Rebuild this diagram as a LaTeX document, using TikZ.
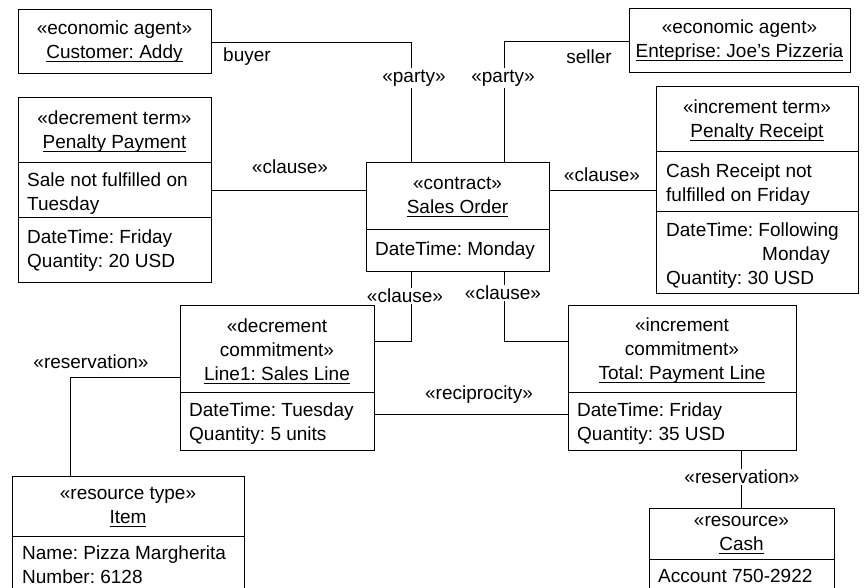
\documentclass[tikz,border=0pt]{standalone}
\usepackage{fontspec}
\setmainfont{Liberation Sans}
\usetikzlibrary{calc}
% underlined instance name with the rule at a fixed depth
\newcommand\ulname[1]{\setbox0\hbox{#1}\rlap{\rule[-3.4pt]{\wd0}{0.9pt}}\box0}

\begin{document}
\frenchspacing
\begin{tikzpicture}[x=1pt,y=-1pt,
  every node/.style={font=\fontsize{19}{24}\selectfont, inner sep=0pt},
  box/.style={draw, line width=1pt},
  sep/.style={line width=1pt},
  wire/.style={line width=0.8pt},
  lbl/.style={fill=white, inner sep=1.5pt},
  hdr/.style={align=center},
  attr/.style={align=left, anchor=west}]
\useasboundingbox (0,0) rectangle (867,588);
\clip (0,0) rectangle (867,588);

% ---------- boxes ----------
\node[box, minimum width=193, minimum height=64]  (cust)  at (114.5,42)  {};
\node[box, minimum width=221, minimum height=64]  (ent)   at (739.5,41)  {};
\node[box, minimum width=193, minimum height=184] (payP)  at (114.5,190) {};
\node[box, minimum width=202, minimum height=206] (recP)  at (757,190)   {};
\node[box, minimum width=183, minimum height=108] (contr) at (457.5,217) {};
\node[box, minimum width=194, minimum height=145] (sales) at (277,377.5) {};
\node[box, minimum width=228, minimum height=145] (paym)  at (682,377.5) {};
\node[box, minimum width=232, minimum height=130] (item)  at (128,541)   {};
\node[box, minimum width=185, minimum height=100] (cash)  at (741.5,558) {};

% compartment separators
\draw[sep] (payP.west |- 0,163) -- (payP.east |- 0,163);
\draw[sep] (payP.west |- 0,217) -- (payP.east |- 0,217);
\draw[sep] (recP.west |- 0,152) -- (recP.east |- 0,152);
\draw[sep] (recP.west |- 0,212) -- (recP.east |- 0,212);
\draw[sep] (contr.west |- 0,229) -- (contr.east |- 0,229);
\draw[sep] (sales.west |- 0,392) -- (sales.east |- 0,392);
\draw[sep] (paym.west |- 0,392) -- (paym.east |- 0,392);
\draw[sep] (item.west |- 0,536) -- (item.east |- 0,536);
\draw[sep] (cash.west |- 0,559) -- (cash.east |- 0,559);

% ---------- box texts ----------
\node[hdr] (custT) at (114.5,42) {«economic agent»\\\ulname{Customer: Addy}};
\node[hdr] (entT) at (739.5,41) {«economic agent»\\\ulname{Enteprise: Joe’s Pizzeria}};

\node[hdr] (payPT) at (114.5,132) {«decrement term»\\\ulname{Penalty Payment}};
\node[attr] (payPA) at (27,194) {Sale not fulfilled on\\Tuesday};
\node[attr] (payPB) at (27,251) {DateTime: Friday\\Quantity: 20 USD};

\node[hdr] (recPT) at (757,121) {«increment term»\\\ulname{Penalty Receipt}};
\node[attr] (recPA) at (666,185) {Cash Receipt not\\fulfilled on Friday};
\node[attr] (recPB) at (666,256) {DateTime: Following\\\hspace*{96pt}Monday\\Quantity: 30 USD};

\node[hdr] (contrT) at (457.5,197) {«contract»\\\ulname{Sales Order}};
\node[attr] (contrA) at (375,251) {DateTime: Monday};

\node[hdr] (salesT) at (277,351) {«decrement\\commitment»\\\ulname{Line1: Sales Line}};
\node[attr] (salesA) at (189,424) {DateTime: Tuesday\\Quantity: 5 units};

\node[hdr] (paymT) at (682,351) {«increment\\commitment»\\\ulname{Total: Payment Line}};
\node[attr] (paymA) at (577,424) {DateTime: Friday\\Quantity: 35 USD};

\node[hdr] (itemT) at (128,507) {«resource type»\\\ulname{Item}};
\node[attr, anchor=north west] (itemA) at (22,545.5) {Name: Pizza Margherita\\Number: 6128};

\node[hdr] (cashT) at (741.5,535) {«resource»\\\ulname{Cash}};
\node[attr, anchor=north west] (cashA) at (658,569.5) {Account 750-2922};

% ---------- connectors ----------
\draw[wire] (cust.east) -| ([xshift=45.5pt]contr.north west);
\draw[wire] (ent.west) -| ([xshift=-45.5pt]contr.north east);
\draw[wire] (payP.east) -- (payP.east -| contr.west);
\draw[wire] (contr.east |- recP.west) -- (recP.west);
\draw[wire] ([xshift=45.5pt]contr.south west) |- (sales.east |- 0,341);
\draw[wire] ([xshift=-45.5pt]contr.south east) |- (paym.west |- 0,341);
\draw[wire] (sales.east |- 0,414) -- (paym.west |- 0,414);
\draw[wire] (sales.west |- 0,377) -| (item.north -| 70,0);
\draw[wire] (cash.north |- paym.south) -- (cash.north);

% ---------- connector labels ----------
\node (buyer)  at (247,57) {buyer};
\node (seller) at (589,57) {seller};
\node[lbl] (partyL) at (414,78) {«party»};
\node[lbl] (partyR) at (503,78) {«party»};
\node (clauseL) at (290,167) {«clause»};
\node (clauseR) at (602,175) {«clause»};
\node[lbl] (clauseSL) at (405,296) {«clause»};
\node[lbl] (clauseSR) at (503,293) {«clause»};
\node (recip) at (479,395) {«reciprocity»};
\node (resL) at (91,362) {«reservation»};
\node[lbl] (resR) at (742,477) {«reservation»};
\end{tikzpicture}
\end{document}
